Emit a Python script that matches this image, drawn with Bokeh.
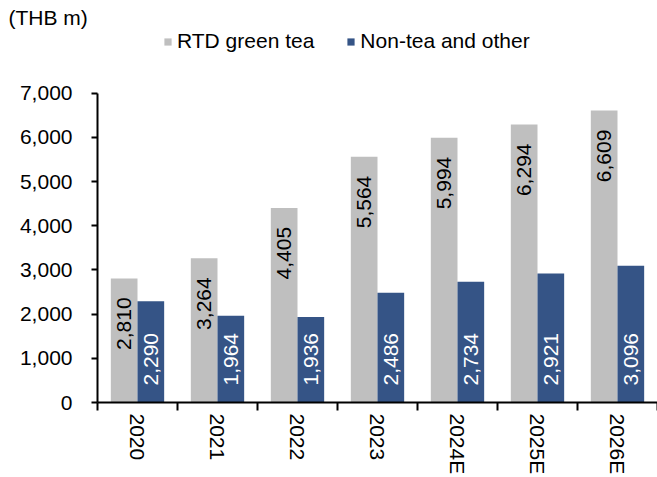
from bokeh.plotting import figure
from bokeh.models import (ColumnDataSource, Range1d, FixedTicker, Legend, LegendItem)
from bokeh.core.properties import value
from bokeh.embed import file_html
from bokeh.resources import INLINE

categories = ["2020", "2021", "2022", "2023", "2024E", "2025E", "2026E"]
rtd_green_tea = [2810, 3264, 4405, 5564, 5994, 6294, 6609]
non_tea_other = [2290, 1964, 1936, 2486, 2734, 2921, 3096]
y_ticks = [0, 1000, 2000, 3000, 4000, 5000, 6000, 7000]
unit_label = "(THB m)"
series_names = ["RTD green tea", "Non-tea and other"]

GREY = "#BFBFBF"
BLUE = "#355486"
FONT = "Liberation Sans"
FS = "21px"

# layout: frame top at 28px, axis 0 at 403px, axis max (7000) at 93px
FRAME_TOP = 28
AXIS_BOTTOM = 403
AXIS_TOP = 93
y_max = y_ticks[-1]
y_end = y_max * (AXIS_BOTTOM - FRAME_TOP) / (AXIS_BOTTOM - AXIS_TOP)

n = len(categories)
idx = list(range(n))
src = ColumnDataSource(dict(
    xg=[i + 1/3 for i in idx],
    xb=[i + 2/3 for i in idx],
    g=rtd_green_tea,
    b=non_tea_other,
    zero=[0] * n,
    gl=[f"{v:,}" for v in rtd_green_tea],
    bl=[f"{v:,}" for v in non_tea_other],
))

p = figure(width=657, height=477, output_backend="svg", toolbar_location=None,
           x_range=Range1d(0, n), y_range=Range1d(0, y_end), title=unit_label,
           min_border_left=97, min_border_right=0, min_border_top=FRAME_TOP,
           min_border_bottom=477 - AXIS_BOTTOM)
p.outline_line_color = None
p.xgrid.visible = False
p.ygrid.visible = False
p.background_fill_color = "white"
p.border_fill_color = "white"

p.title.align = "left"
p.title.offset = -89
p.title.standoff = 0
p.title.text_font = FONT
p.title.text_font_size = FS
p.title.text_font_style = "normal"
p.title.text_color = "black"

rg = p.vbar(x="xg", top="g", width=1/3, source=src, fill_color=GREY, line_color=None)
rb = p.vbar(x="xb", top="b", width=1/3, source=src, fill_color=BLUE, line_color=None)

p.text(x="xg", y="g", text="gl", source=src, angle=1.5708, text_align="right",
       text_baseline="middle", y_offset=19, text_font=value(FONT), text_font_size=FS,
       text_color="black")
p.text(x="xb", y="zero", text="bl", source=src, angle=1.5708, text_align="left",
       text_baseline="middle", y_offset=-17, text_font=value(FONT), text_font_size=FS,
       text_color="white")

# x axis
xa = p.xaxis[0]
xa.ticker = FixedTicker(ticks=[i + 0.5 for i in idx], minor_ticks=list(range(n + 1)))
xa.major_label_overrides = {i + 0.5: c for i, c in enumerate(categories)}
xa.major_label_orientation = "vertical"
xa.major_tick_line_color = None
xa.major_tick_out = 0
xa.major_tick_in = 0
xa.minor_tick_out = 8
xa.minor_tick_in = 0
xa.minor_tick_line_color = "black"
xa.minor_tick_line_width = 2
xa.axis_line_width = 2
xa.axis_line_color = "black"
xa.major_label_standoff = 3
xa.major_label_text_font = FONT
xa.major_label_text_font_size = FS
xa.major_label_text_color = "black"

ya = p.yaxis[0]
ya.bounds = (0, y_max)
ya.ticker = FixedTicker(ticks=y_ticks, minor_ticks=[])
ya.major_label_overrides = {t: f"{t:,}" for t in y_ticks}
ya.major_tick_out = 6
ya.major_tick_in = 0
ya.major_tick_line_width = 2
ya.major_tick_line_color = "black"
ya.minor_tick_line_color = None
ya.axis_line_width = 2
ya.axis_line_color = "black"
ya.major_label_standoff = 19
ya.major_label_text_font = FONT
ya.major_label_text_font_size = FS
ya.major_label_text_color = "black"

legend = Legend(items=[LegendItem(label=series_names[0], renderers=[rg]),
                       LegendItem(label=series_names[1], renderers=[rb])],
                orientation="horizontal", location=(66, AXIS_BOTTOM - 54),
                glyph_width=9, glyph_height=9, label_standoff=5, spacing=32,
                padding=0, margin=0, border_line_color=None, background_fill_alpha=0,
                label_text_font=FONT, label_text_font_size=FS, label_height=24,
                label_text_color="black")
p.add_layout(legend, "center")

open("out.html", "w").write(file_html(p, INLINE))
